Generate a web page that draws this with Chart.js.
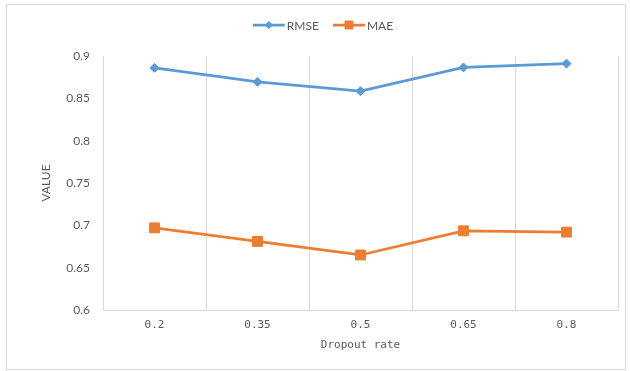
<!DOCTYPE html>
<html>
<head>
<meta charset="utf-8">
<script src="https://cdn.jsdelivr.net/npm/chart.js@4/dist/chart.umd.min.js"></script>
<style>
   html, body { margin: 0; padding: 0; background: #fff; }
</style>
</head>
<body>
<canvas id="grafDropout" width="630" height="371"></canvas>
<script>
//-> dados do grafico
const taxas = ['0.2', '0.35', '0.5', '0.65', '0.8'];
const rmse = [0.886, 0.8695, 0.8585, 0.8865, 0.891];
const mae = [0.697, 0.681, 0.665, 0.6935, 0.692];
const ticksY = [0.6, 0.65, 0.7, 0.75, 0.8, 0.85, 0.9];

const corRmse = '#5b9bd5';
const corMae = '#ed7d31';
const cinza = '#595959';

//-> moldura externa em volta do grafico
const moldura = {
   id: 'moldura',
   beforeDraw(chart) {
      const ctx = chart.ctx;
      ctx.save();
      ctx.fillStyle = '#fff';
      ctx.fillRect(0, 0, chart.width, chart.height);
      ctx.strokeStyle = '#d9d9d9';
      ctx.lineWidth = 1;
      ctx.strokeRect(6.5, 4.5, 619, 365);
      ctx.restore();
   }
};

//-> legenda estilo excel (linha com marcador no meio)
const legendaLinha = {
   id: 'legendaLinha',
   afterDraw(chart) {
      const ctx = chart.ctx;
      const y = 25;
      const larguraLinha = 32;
      ctx.save();
      ctx.font = '12px Lato';
      ctx.textBaseline = 'middle';
      const itens = chart.data.datasets.map(ds => ({
         ds: ds,
         w: larguraLinha + 2 + ctx.measureText(ds.label).width
      }));
      const total = itens.reduce((s, it) => s + it.w, 0) + 14 * (itens.length - 1);
      let x = 323 - total / 2;
      itens.forEach(it => {
         const ds = it.ds;
         ctx.strokeStyle = ds.borderColor;
         ctx.fillStyle = ds.borderColor;
         ctx.lineWidth = 2.75;
         ctx.beginPath();
         ctx.moveTo(x, y);
         ctx.lineTo(x + larguraLinha, y);
         ctx.stroke();
         ctx.lineWidth = 1;
         Chart.helpers.drawPoint(ctx, {
            pointStyle: ds.pointStyle,
            radius: ds.pointRadius * 0.8,
            borderWidth: 1
         }, x + larguraLinha / 2, y);
         ctx.fillStyle = cinza;
         ctx.fillText(ds.label, x + larguraLinha + 2, y + 1);
         x += it.w + 14;
      });
      ctx.restore();
   }
};

const ctxGraf = document.getElementById('grafDropout').getContext('2d');

new Chart(ctxGraf, {
   type: 'line',
   data: {
      labels: taxas,
      datasets: [{
         label: 'RMSE',
         data: rmse,
         borderColor: corRmse,
         backgroundColor: corRmse,
         borderWidth: 2.75,
         pointStyle: 'rectRot',
         pointRadius: 4.5,
         pointBorderWidth: 1,
         tension: 0
      }, {
         label: 'MAE',
         data: mae,
         borderColor: corMae,
         backgroundColor: corMae,
         borderWidth: 2.75,
         pointStyle: 'rect',
         pointRadius: 7,
         pointBorderWidth: 1,
         tension: 0
      }]
   },
   options: {
      responsive: false,
      animation: false,
      events: [],
      layout: {
         padding: { left: 6, right: 12, top: 56, bottom: 5 }
      },
      plugins: {
         legend: { display: false },
         tooltip: { enabled: false }
      },
      scales: {
         x: {
            offset: true,
            grid: {
               offset: true,
               color: '#d9d9d9',
               lineWidth: 1,
               drawTicks: false
            },
            border: { display: true, color: '#d9d9d9', width: 1 },
            ticks: {
               padding: 9,
               color: cinza,
               font: { family: 'DejaVu Sans Mono', size: 11 }
            },
            title: {
               display: true,
               text: 'Dropout rate',
               color: cinza,
               font: { family: 'DejaVu Sans Mono', size: 11 },
               padding: { top: 0, bottom: 14 }
            },
            afterFit(scale) { scale.height = 56; }
         },
         y: {
            min: 0.6,
            max: 0.9,
            grid: { display: false, drawTicks: false },
            border: { display: false },
            afterBuildTicks(scale) {
               scale.ticks = ticksY.map(v => ({ value: v }));
            },
            ticks: {
               padding: 13,
               color: cinza,
               font: { family: 'Lato', size: 12 },
               callback: v => String(v)
            },
            title: {
               display: true,
               text: 'VALUE',
               color: cinza,
               font: { family: 'Lato', size: 12 },
               padding: { top: 33, bottom: 0 }
            },
            afterFit(scale) { scale.width = 97; }
         }
      }
   },
   plugins: [moldura, legendaLinha]
});
</script>
</body>
</html>
